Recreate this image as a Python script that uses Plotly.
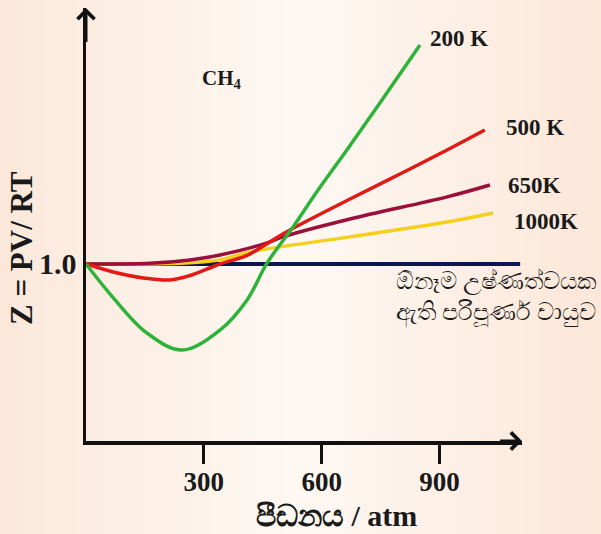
import plotly.graph_objects as go

# ---- data (pressure in atm, compressibility factor Z) ----
p_200 = [0, 69, 155, 244, 341, 410, 461, 527, 588, 664, 748, 850]
z_200 = [1.0, 0.81, 0.61, 0.514, 0.627, 0.797, 1.006, 1.209, 1.41, 1.644, 1.91, 2.237]

p_500 = [0, 69, 150, 214, 265, 341, 410, 476, 519, 672, 799, 919, 1015]
z_500 = [1.0, 0.955, 0.92, 0.91, 0.935, 1.0, 1.049, 1.136, 1.192, 1.367, 1.508, 1.644, 1.757]

p_650 = [0, 163, 265, 341, 461, 501, 672, 919, 1028]
z_650 = [1.0, 1.004, 1.023, 1.051, 1.119, 1.153, 1.254, 1.379, 1.446]

p_1000 = [0, 239, 341, 417, 672, 919, 1036]
z_1000 = [1.0, 1.004, 1.023, 1.068, 1.153, 1.237, 1.288]

p_ideal = [0, 1105]
z_ideal = [1.0, 1.0]

series_names = ["200 K", "500 K", "650K", "1000K"]
x_ticks = [300, 600, 900]
x_tick_text = ["300", "600", "900"]
y_ticks = [1.0]
y_tick_text = ["1.0"]

X_MAX = 1109.7
Y_MAX = 2.446

SERIF = "Liberation Serif"

fig = go.Figure()

# background gradient strips (styling)
def lerp(a, b, t):
    return tuple(int(round(a[i] + (b[i] - a[i]) * t)) for i in range(3))

edge_l = (251, 232, 218)
center = (254, 248, 243)
edge_r = (252, 231, 216)
n = 40
for i in range(n):
    t0 = i / n
    t1 = (i + 1) / n
    tm = (t0 + t1) / 2
    if tm < 0.5:
        c = lerp(edge_l, center, tm / 0.5)
    else:
        c = lerp(center, edge_r, (tm - 0.5) / 0.5)
    fig.add_shape(type="rect", xref="paper", yref="paper",
                  x0=-86 / 436 + t0 * 601 / 436, x1=-86 / 436 + t1 * 601 / 436 + 0.002,
                  y0=-93 / 433, y1=441 / 433,
                  fillcolor="rgb(%d,%d,%d)" % c, line_width=0, layer="below")

line_w = 3.5
fig.add_trace(go.Scatter(x=p_ideal, y=z_ideal, mode="lines",
                         line=dict(color="#0b1650", width=4), showlegend=False))
fig.add_trace(go.Scatter(x=p_1000, y=z_1000, mode="lines", line_shape="spline",
                         line=dict(color="#f4cf1e", width=line_w), showlegend=False))
fig.add_trace(go.Scatter(x=p_650, y=z_650, mode="lines", line_shape="spline",
                         line=dict(color="#9c0f3a", width=line_w), showlegend=False))
fig.add_trace(go.Scatter(x=p_500, y=z_500, mode="lines", line_shape="spline",
                         line=dict(color="#e01b16", width=line_w), showlegend=False))
fig.add_trace(go.Scatter(x=p_200, y=z_200, mode="lines", line_shape="spline",
                         line=dict(color="#2eb33a", width=line_w), showlegend=False))

# curve labels at line ends
label_specs = [
    (p_200[-1], z_200[-1], series_names[0], 8, 7),
    (p_500[-1], z_500[-1], series_names[1], 19, 2),
    (p_650[-1], z_650[-1], series_names[2], 16, 0),
    (p_1000[-1], z_1000[-1], series_names[3], 19, -9),
]
for x, y, txt, xs, ys in label_specs:
    fig.add_annotation(x=x, y=y, xref="x", yref="y", text=txt, showarrow=False,
                       xanchor="left", yanchor="middle", xshift=xs, yshift=ys,
                       font=dict(family=SERIF, size=23, color="#1a1a1a", weight="bold"))

# CH4
fig.add_annotation(x=(200 - 86) / 436, y=(441 - 79) / 433, xref="paper", yref="paper",
                   text="CH<sub>4</sub>", showarrow=False, xanchor="left", yanchor="middle",
                   font=dict(family=SERIF, size=21, color="#1a1a1a", weight="bold"))

# ideal gas note
fig.add_annotation(x=(394 - 86) / 436, y=(441 - 298) / 433, xref="paper", yref="paper",
                   text="ඕනෑම උෂ්ණත්වයක<br>ඇති පරිපූර්ණ වායුව", showarrow=False,
                   xanchor="left", yanchor="middle", align="left",
                   font=dict(family=SERIF, size=24, color="#1a1a1a"))

# axis titles
fig.add_annotation(x=(336 - 86) / 436, y=(441 - 515) / 433, xref="paper", yref="paper",
                   text="පීඩනය / atm", showarrow=False, xanchor="center", yanchor="middle",
                   font=dict(family=SERIF, size=30, color="#1a1a1a", weight="bold"))
fig.add_annotation(x=(22 - 86) / 436, y=(441 - 248) / 433, xref="paper", yref="paper",
                   text="Z = PV/ RT", showarrow=False, textangle=-90,
                   xanchor="center", yanchor="middle",
                   font=dict(family=SERIF, size=31, color="#1a1a1a", weight="bold"))

# axis arrowheads
fig.add_annotation(x=X_MAX, y=0, ax=X_MAX - 60, ay=0, xref="x", yref="y",
                   axref="x", ayref="y", showarrow=True, arrowhead=4, arrowsize=1.1,
                   arrowwidth=3, arrowcolor="#111", text="")
fig.add_annotation(x=0, y=Y_MAX, ax=0, ay=Y_MAX - 0.2, xref="x", yref="y",
                   axref="x", ayref="y", showarrow=True, arrowhead=4, arrowsize=1.1,
                   arrowwidth=3, arrowcolor="#111", text="")

fig.update_xaxes(range=[0, X_MAX], showgrid=False, zeroline=False,
                 showline=True, linecolor="#111", linewidth=3.5,
                 tickvals=x_ticks, ticktext=x_tick_text, ticks="outside",
                 ticklen=19, tickwidth=3, tickcolor="#111", ticklabelstandoff=-5,
                 tickfont=dict(family=SERIF, size=27, color="#1a1a1a", weight="bold"))
fig.update_yaxes(range=[0, Y_MAX], showgrid=False, zeroline=False,
                 showline=True, linecolor="#111", linewidth=3.5,
                 tickvals=y_ticks, ticktext=y_tick_text, ticks="",
                 tickfont=dict(family=SERIF, size=30, color="#1a1a1a", weight="bold"))

fig.update_layout(width=601, height=534,
                  margin=dict(l=86, r=79, t=8, b=93),
                  paper_bgcolor="#fdf1e8", plot_bgcolor="rgba(0,0,0,0)",
                  showlegend=False)

fig.write_html("out.html",
               config={"displayModeBar": False, "staticPlot": True},
               post_script="document.body.style.margin='0';document.body.style.padding='0';document.body.style.overflow='hidden';")
